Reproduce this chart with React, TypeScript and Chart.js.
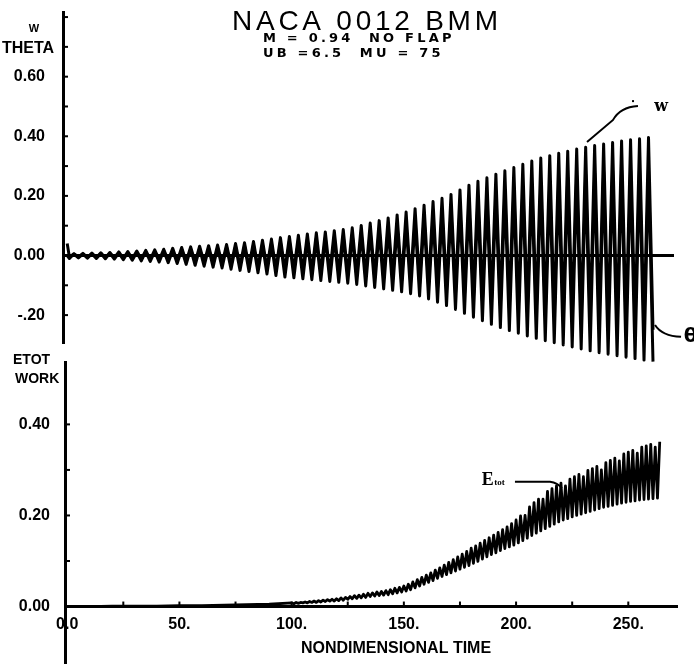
import React, { useEffect, useRef } from "react";
import { Chart, registerables } from "chart.js";

Chart.register(...registerables);

// ---------------- text ----------------
const TITLE = "NACA 0012 BMM";
const SUBTITLE_1 = "M = 0.94  NO FLAP";
const SUBTITLE_2 = "UB =6.5  MU = 75";
const UPPER_AXIS_TITLE = ["W", "THETA"];
const LOWER_AXIS_TITLE = ["ETOT", "WORK"];
const X_TITLE = "NONDIMENSIONAL TIME";

// ---------------- upper panel: W and THETA ----------------
const W_START = 0.04; // value at t = 0
const THETA_START = 0.0;

const UP_TROUGH_TIME = [
  1, 5, 9, 13, 17, 21, 25, 29, 33, 37, 41, 45, 49, 53, 57, 61, 65, 69, 73, 77,
  81, 85, 89, 93, 97, 101, 105, 109, 113, 117, 121, 125, 129, 133, 137, 141, 145,
  149, 153, 157, 161, 165, 169, 173, 177, 181, 185, 189, 193, 197, 201, 205, 209,
  213, 217, 221, 225, 229, 233, 237, 241, 245, 249, 253, 257, 261,
];
const UP_PEAK_TIME = [
  3, 7, 11, 15, 19, 23, 27, 31, 35, 39, 43, 47, 51, 55, 59, 63, 67, 71, 75, 79,
  83, 87, 91, 95, 99, 103, 107, 111, 115, 119, 123, 127, 131, 135, 139, 143, 147,
  151, 155, 159, 163, 167, 171, 175, 179, 183, 187, 191, 195, 199, 203, 207, 211,
  215, 219, 223, 227, 231, 235, 239, 243, 247, 251, 255, 259,
];

const W_PEAK = [
  0.006, 0.007, 0.008, 0.009, 0.01, 0.012, 0.013, 0.015, 0.017,
  0.019, 0.021, 0.024, 0.027, 0.029, 0.031, 0.033, 0.035, 0.037, 0.04,
  0.043, 0.047, 0.051, 0.055, 0.06, 0.064, 0.068, 0.072, 0.076, 0.079,
  0.083, 0.087, 0.093, 0.101, 0.109, 0.117, 0.126, 0.136, 0.146, 0.157,
  0.169, 0.181, 0.192, 0.205, 0.22, 0.236, 0.249, 0.261, 0.273, 0.284,
  0.295, 0.306, 0.317, 0.327, 0.335, 0.343, 0.35, 0.357, 0.363, 0.369,
  0.374, 0.379, 0.384, 0.388, 0.392, 0.396,
];
const W_TROUGH = [
  -0.006, -0.005, -0.006, -0.007, -0.008, -0.008, -0.01, -0.011, -0.012, -0.014,
  -0.015, -0.017, -0.019, -0.021, -0.023, -0.025, -0.027, -0.029, -0.032, -0.035,
  -0.038, -0.041, -0.043, -0.047, -0.05, -0.052, -0.055, -0.057, -0.059, -0.061,
  -0.063, -0.065, -0.068, -0.071, -0.075, -0.078, -0.082, -0.085, -0.09, -0.095,
  -0.102, -0.11, -0.118, -0.127, -0.136, -0.145, -0.153, -0.162, -0.169, -0.176,
  -0.183, -0.189, -0.195, -0.2, -0.205, -0.21, -0.215, -0.22, -0.224, -0.228,
  -0.232, -0.235, -0.239, -0.242, -0.246, -0.249,
];
const THETA_PEAK = [
  0.005, 0.005, 0.006, 0.007, 0.008, 0.009, 0.01, 0.011, 0.013,
  0.014, 0.016, 0.018, 0.02, 0.022, 0.023, 0.025, 0.026, 0.028, 0.03,
  0.032, 0.035, 0.038, 0.041, 0.045, 0.048, 0.051, 0.054, 0.057, 0.059,
  0.062, 0.065, 0.07, 0.076, 0.082, 0.088, 0.095, 0.102, 0.11, 0.118,
  0.127, 0.136, 0.144, 0.154, 0.165, 0.177, 0.187, 0.196, 0.205, 0.213,
  0.221, 0.23, 0.238, 0.245, 0.251, 0.257, 0.263, 0.268, 0.272, 0.277,
  0.281, 0.284, 0.288, 0.291, 0.294, 0.297,
];
const THETA_TROUGH = [
  -0.01, -0.008, -0.009, -0.01, -0.011, -0.012, -0.014, -0.016, -0.018, -0.02,
  -0.022, -0.024, -0.027, -0.03, -0.033, -0.036, -0.039, -0.042, -0.046, -0.05,
  -0.054, -0.058, -0.062, -0.067, -0.072, -0.075, -0.078, -0.081, -0.084, -0.087,
  -0.09, -0.093, -0.097, -0.102, -0.107, -0.112, -0.117, -0.122, -0.128, -0.136,
  -0.146, -0.157, -0.168, -0.181, -0.194, -0.207, -0.219, -0.231, -0.242, -0.252,
  -0.261, -0.27, -0.278, -0.286, -0.293, -0.3, -0.307, -0.314, -0.32, -0.326,
  -0.331, -0.336, -0.341, -0.346, -0.351, -0.356,
];

// ---------------- lower panel: ETOT ----------------
const E_BASE_TIME = [0, 10, 20, 30, 40, 50, 60, 70, 80, 90];
const E_BASE = [0.0, 0.0, 0.001, 0.001, 0.001, 0.002, 0.002, 0.003, 0.004, 0.005];

const E_PEAK_TIME = [
  100, 102, 104, 106, 108, 110, 112, 114, 116, 118, 120, 122, 124, 126, 128, 130,
  132, 134, 136, 138, 140, 142, 144, 146, 148, 150, 152, 154, 156, 158, 160, 162,
  164, 166, 168, 170, 172, 174, 176, 178, 180, 182, 184, 186, 188, 190, 192, 194,
  196, 198, 200, 202, 204, 206, 208, 210, 212, 214, 216, 218, 220, 222, 224, 226,
  228, 230, 232, 234, 236, 238, 240, 242, 244, 246, 248, 250, 252, 254, 256, 258,
  260, 262, 264,
];
const E_PEAK = [
  0.008, 0.009, 0.009, 0.01, 0.011, 0.012, 0.013, 0.014, 0.015, 0.016,
  0.017, 0.019, 0.02, 0.022, 0.024, 0.025, 0.027, 0.029, 0.03, 0.032,
  0.033, 0.035, 0.037, 0.04, 0.042, 0.045, 0.049, 0.054, 0.059, 0.064,
  0.069, 0.074, 0.08, 0.085, 0.091, 0.097, 0.103, 0.109, 0.115, 0.121,
  0.128, 0.133, 0.139, 0.145, 0.151, 0.157, 0.163, 0.169, 0.175, 0.182,
  0.19, 0.199, 0.2, 0.219, 0.228, 0.236, 0.236, 0.253, 0.259, 0.265,
  0.271, 0.265, 0.28, 0.285, 0.29, 0.285, 0.299, 0.303, 0.308, 0.3,
  0.316, 0.321, 0.326, 0.32, 0.335, 0.339, 0.343, 0.337, 0.35, 0.353,
  0.356, 0.35, 0.362,
];
const E_TROUGH_TIME = [
  101, 103, 105, 107, 109, 111, 113, 115, 117, 119, 121, 123, 125, 127, 129, 131,
  133, 135, 137, 139, 141, 143, 145, 147, 149, 151, 153, 155, 157, 159, 161, 163,
  165, 167, 169, 171, 173, 175, 177, 179, 181, 183, 185, 187, 189, 191, 193, 195,
  197, 199, 201, 203, 205, 207, 209, 211, 213, 215, 217, 219, 221, 223, 225, 227,
  229, 231, 233, 235, 237, 239, 241, 243, 245, 247, 249, 251, 253, 255, 257, 259,
  261, 263,
];
const E_TROUGH = [
  0.006, 0.007, 0.008, 0.008, 0.009, 0.009, 0.01, 0.011, 0.012, 0.012,
  0.013, 0.014, 0.016, 0.017, 0.018, 0.019, 0.02, 0.022, 0.023, 0.024,
  0.025, 0.026, 0.028, 0.03, 0.032, 0.034, 0.037, 0.041, 0.045, 0.049,
  0.053, 0.057, 0.062, 0.066, 0.07, 0.074, 0.078, 0.082, 0.086, 0.09,
  0.095, 0.099, 0.104, 0.109, 0.114, 0.118, 0.123, 0.127, 0.131, 0.135,
  0.14, 0.145, 0.15, 0.156, 0.161, 0.166, 0.171, 0.176, 0.181, 0.186,
  0.19, 0.193, 0.197, 0.2, 0.203, 0.206, 0.209, 0.212, 0.215, 0.218,
  0.22, 0.222, 0.225, 0.227, 0.229, 0.231, 0.232, 0.234, 0.235, 0.236,
  0.237, 0.238,
];

// ---------------- helpers ----------------
type P = { x: number; y: number };
function merge(start: P[], ...pairs: [number[], number[]][]): P[] {
  const pts: P[] = [...start];
  pairs.forEach(([ts, vs]) => ts.forEach((t, i) => pts.push({ x: t, y: vs[i] })));
  return pts.sort((a, b) => a.x - b.x);
}

const SANS = '"Liberation Sans", Arial, Helvetica, sans-serif';
const BLACK = "#000";

function inwardTicks(withX: boolean, yFilter: (v: number) => boolean) {
  return {
    id: "inwardTicks",
    afterDraw(chart: any) {
      const ctx = chart.ctx;
      const xs = chart.scales.x;
      const ys = chart.scales.y;
      const left = chart.chartArea.left;
      ctx.save();
      ctx.strokeStyle = BLACK;
      ctx.lineWidth = 2;
      ys.ticks.forEach((t: any) => {
        if (!yFilter(t.value)) return;
        const p = ys.getPixelForValue(t.value);
        ctx.beginPath();
        ctx.moveTo(left, p);
        ctx.lineTo(left + 5, p);
        ctx.stroke();
      });
      if (withX) {
        const y0 = ys.getPixelForValue(0);
        xs.ticks.forEach((t: any) => {
          if (t.value <= 0) return;
          const p = xs.getPixelForValue(t.value);
          ctx.beginPath();
          ctx.moveTo(p, y0);
          ctx.lineTo(p, y0 - 5);
          ctx.stroke();
        });
      }
      ctx.restore();
    },
  };
}

const upperText = {
  id: "upperText",
  afterDraw(chart: any) {
    const ctx = chart.ctx;
    const xs = chart.scales.x;
    const ys = chart.scales.y;
    const px = (t: number) => xs.getPixelForValue(t);
    const py = (v: number) => ys.getPixelForValue(v);
    ctx.save();
    ctx.fillStyle = BLACK;
    ctx.strokeStyle = BLACK;
    ctx.textAlign = "left";
    ctx.textBaseline = "alphabetic";
    ctx.font = `28px ${SANS}`;
    ctx.letterSpacing = "3.75px";
    ctx.fillText(TITLE, 232, 30);
    ctx.font = 'bold 13px "DejaVu Sans", sans-serif';
    ctx.letterSpacing = "3.2px";
    ctx.fillText(SUBTITLE_1, 263, 41.5);
    ctx.fillText(SUBTITLE_2, 263, 57);
    ctx.letterSpacing = "0px";
    ctx.textBaseline = "middle";
    ctx.textAlign = "center";
    ctx.font = `bold 11px ${SANS}`;
    ctx.fillText(UPPER_AXIS_TITLE[0], 34, 29);
    ctx.textAlign = "left";
    ctx.font = `bold 16px ${SANS}`;
    ctx.fillText(UPPER_AXIS_TITLE[1], 2, 49);

    // W leader
    ctx.lineWidth = 2;
    ctx.beginPath();
    ctx.moveTo(px(231.6), py(0.381));
    ctx.lineTo(px(243.2), py(0.455));
    ctx.quadraticCurveTo(px(246.3), py(0.498), px(254.3), py(0.502));
    ctx.stroke();
    ctx.fillRect(px(252.1) - 1, py(0.518) - 1, 2, 2);
    ctx.textAlign = "center";
    ctx.font = 'bold 16px "DejaVu Serif", serif';
    ctx.fillText("w", px(264.6), py(0.5));

    // theta leader
    ctx.beginPath();
    ctx.moveTo(px(261.9), py(-0.233));
    ctx.quadraticCurveTo(px(265.0), py(-0.27), px(273.5), py(-0.273));
    ctx.stroke();
    ctx.font = 'bold 20px "DejaVu Sans", sans-serif';
    ctx.fillText("\u03b8", px(277.8), py(-0.272));
    ctx.restore();
  },
};

const lowerText = {
  id: "lowerText",
  afterDraw(chart: any) {
    const ctx = chart.ctx;
    const xs = chart.scales.x;
    const ys = chart.scales.y;
    const px = (t: number) => xs.getPixelForValue(t);
    const py = (v: number) => ys.getPixelForValue(v);
    ctx.save();
    ctx.fillStyle = BLACK;
    ctx.strokeStyle = BLACK;
    ctx.textBaseline = "middle";
    ctx.textAlign = "left";
    ctx.font = `bold 14px ${SANS}`;
    ctx.fillText(LOWER_AXIS_TITLE[0], 13, 20);
    ctx.fillText(LOWER_AXIS_TITLE[1], 15, 39);
    ctx.textAlign = "center";
    ctx.font = `bold 16px ${SANS}`;
    ctx.fillText(X_TITLE, 396, 309);

    // E_tot label and leader
    ctx.lineWidth = 2;
    ctx.beginPath();
    ctx.moveTo(px(199.5), py(0.274));
    ctx.lineTo(px(215.1), py(0.274));
    ctx.quadraticCurveTo(px(218.5), py(0.272), px(220.4), py(0.26));
    ctx.stroke();
    ctx.textBaseline = "alphabetic";
    ctx.textAlign = "right";
    ctx.font = 'bold 18px "Liberation Serif", serif';
    ctx.fillText("E", px(190), py(0.266));
    ctx.textAlign = "left";
    ctx.font = 'bold 9px "Liberation Serif", serif';
    ctx.fillText("tot", px(190.3), py(0.266));
    ctx.restore();
  },
};

function upperLabel(v: number | string) {
  const k = Math.round(Number(v) * 10);
  if (k % 2 !== 0 || k > 6 || k < -2) return "";
  const val = k / 10;
  return val < 0 ? "-" + Math.abs(val).toFixed(2).slice(1) : val.toFixed(2);
}
function lowerLabel(v: number | string) {
  const k = Math.round(Number(v) * 10);
  if (k % 2 !== 0 || k > 4 || k < 0) return "";
  return (k / 10).toFixed(2);
}
function xLabel(v: number | string) {
  const n = Math.round(Number(v));
  if (n % 50 !== 0) return "";
  return n === 0 ? "0.0" : n + ".";
}

function fixY(width: number) {
  return (s: any) => {
    s.width = width;
    s.paddingTop = 0;
    s.paddingBottom = 0;
  };
}

export default function App() {
  const upRef = useRef<HTMLCanvasElement>(null);
  const lowRef = useRef<HTMLCanvasElement>(null);

  useEffect(() => {
    const wData = merge([{ x: 0, y: W_START }], [UP_PEAK_TIME, W_PEAK], [UP_TROUGH_TIME, W_TROUGH]);
    const thData = merge([{ x: 0, y: THETA_START }], [UP_PEAK_TIME, THETA_PEAK], [UP_TROUGH_TIME, THETA_TROUGH]);
    const eData = merge([], [E_BASE_TIME, E_BASE], [E_PEAK_TIME, E_PEAK], [E_TROUGH_TIME, E_TROUGH]);

    const tickFont = { family: SANS, size: 16, weight: "bold" as const };

    const upper = new Chart(upRef.current!, {
      type: "line",
      data: {
        datasets: [
          { label: "W", data: wData, borderColor: BLACK, borderWidth: 3, pointRadius: 0, tension: 0, clip: false as any, borderJoinStyle: "round" },
          { label: "THETA", data: thData, borderColor: BLACK, borderWidth: 3, pointRadius: 0, tension: 0, clip: false as any, borderJoinStyle: "round" },
        ],
      },
      options: {
        responsive: false,
        animation: false,
        devicePixelRatio: 1,
        events: [],
        layout: { padding: { left: 0, right: 20.8, top: 12, bottom: 37 } },
        plugins: { legend: { display: false }, tooltip: { enabled: false }, title: { display: false } },
        scales: {
          x: {
            type: "linear",
            min: -1.87,
            max: 270,
            position: { y: 0 } as any,
            grid: { display: false, drawTicks: false },
            ticks: { display: false },
            border: { display: true, width: 3, color: BLACK },
          },
          y: {
            type: "linear",
            min: -0.2936,
            max: 0.817,
            position: "left",
            afterFit: fixY(63),
            grid: { display: false, drawTicks: false },
            border: { display: true, width: 3, color: BLACK },
            ticks: { stepSize: 0.1, includeBounds: false, autoSkip: false, padding: 18, color: BLACK, font: tickFont, callback: upperLabel },
          },
        },
      },
      plugins: [inwardTicks(false, () => true), upperText],
    });

    const lower = new Chart(lowRef.current!, {
      type: "line",
      data: {
        datasets: [
          { label: "ETOT", data: eData, borderColor: BLACK, borderWidth: 2.8, pointRadius: 0, tension: 0, clip: false as any, borderJoinStyle: "round" },
        ],
      },
      options: {
        responsive: false,
        animation: false,
        devicePixelRatio: 1,
        events: [],
        layout: { padding: { left: 0, right: 17, top: 22, bottom: 3 } },
        plugins: { legend: { display: false }, tooltip: { enabled: false }, title: { display: false } },
        scales: {
          x: {
            type: "linear",
            min: -0.98,
            max: 271.7,
            position: { y: 0 } as any,
            afterFit: (s: any) => { s.paddingLeft = 0; s.paddingRight = 0; },
            grid: { display: false, drawTicks: false },
            border: { display: true, width: 3, color: BLACK },
            ticks: { stepSize: 25, includeBounds: false, autoSkip: false, maxRotation: 0, padding: 8, color: BLACK, font: tickFont, callback: xLabel },
          },
          y: {
            type: "linear",
            min: -0.124,
            max: 0.537,
            position: "left",
            afterFit: fixY(65),
            grid: { display: false, drawTicks: false },
            border: { display: true, width: 3, color: BLACK },
            ticks: { stepSize: 0.1, includeBounds: false, autoSkip: false, padding: 15, color: BLACK, font: tickFont, callback: lowerLabel },
          },
        },
      },
      plugins: [inwardTicks(true, (v) => v > 0.05 && v < 0.45), lowerText],
    });

    return () => {
      upper.destroy();
      lower.destroy();
    };
  }, []);

  return (
    <div style={{ position: "absolute", left: 0, top: 0, width: 694, height: 666, background: "#fff", overflow: "hidden" }}>
      <canvas ref={upRef} width={694} height={380} style={{ position: "absolute", left: 0, top: 0, width: 694, height: 380 }} />
      <canvas ref={lowRef} width={694} height={326} style={{ position: "absolute", left: 0, top: 340, width: 694, height: 326 }} />
    </div>
  );
}
